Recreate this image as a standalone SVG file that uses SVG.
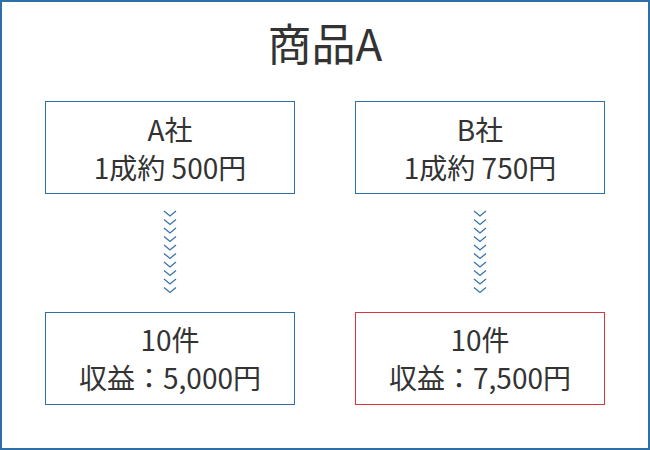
<svg xmlns="http://www.w3.org/2000/svg" width="650" height="450" viewBox="0 0 650 450">
<defs>
<style>
.t{font-family:"Noto Sans CJK JP","Noto Sans",sans-serif;fill:#333;text-anchor:middle;font-size:28px}
.b{fill:#fff;stroke:#2f6fa8;stroke-width:1}
.r{fill:#fff;stroke:#d9363e;stroke-width:1}
.c{fill:none;stroke:#3a73a8;stroke-width:1.3}
</style>
<path id="ch" d="M-6,0 L0,5 L6,0" class="c"/>
<g id="chain">
<use href="#ch" y="211"/><use href="#ch" y="219.5"/><use href="#ch" y="228"/><use href="#ch" y="236.5"/><use href="#ch" y="245"/><use href="#ch" y="253.5"/><use href="#ch" y="262"/><use href="#ch" y="270.5"/><use href="#ch" y="279"/><use href="#ch" y="287.5"/>
</g>
</defs>
<rect x="1" y="1" width="648" height="448" fill="#fff" stroke="#2f6fa8" stroke-width="2"/>
<text class="t" x="325" y="61" style="font-size:44px">商品A</text>
<g id="a"><rect class="b" x="45.5" y="101.5" width="249" height="92"/><text class="t" x="170" y="141">A社</text><text class="t" x="170" y="179">1成約 500円</text></g>
<g id="b"><rect class="b" x="355.5" y="101.5" width="249" height="92"/><text class="t" x="480" y="141">B社</text><text class="t" x="480" y="179">1成約 750円</text></g>
<g id="c"><rect class="b" x="45.5" y="312.5" width="249" height="92"/><text class="t" x="170" y="351">10件</text><text class="t" x="170" y="389">収益：5,000円</text></g>
<g id="d"><rect class="r" x="355.5" y="312.5" width="249" height="92"/><text class="t" x="480" y="351">10件</text><text class="t" x="480" y="389">収益：7,500円</text></g>
<g id="connectors">
<use href="#chain" x="170"/><use href="#chain" x="480"/>
</g>
</svg>
